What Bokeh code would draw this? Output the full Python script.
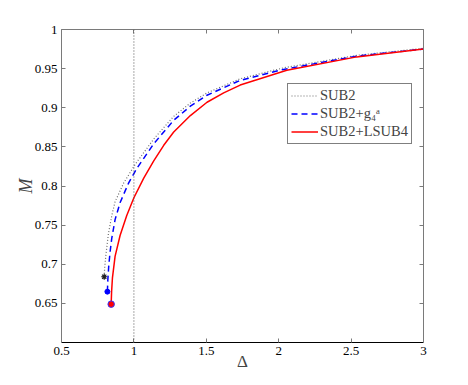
from bokeh.plotting import figure
from bokeh.models import Span, Legend, LegendItem, FixedTicker, LinearAxis, Range1d, CustomJSTickFormatter
from bokeh.embed import file_html
from bokeh.resources import INLINE

# ---- data ----
sub2_delta = [0.795, 0.798, 0.806, 0.824, 0.847, 0.870, 0.930, 1.010, 1.137, 1.275, 1.390, 1.505, 1.734, 2.033, 2.539, 3.0]
sub2_m     = [0.684, 0.695, 0.711, 0.739, 0.762, 0.780, 0.804, 0.828, 0.860, 0.889, 0.906, 0.919, 0.937, 0.951, 0.967, 0.976]

g4_delta = [0.817, 0.820, 0.826, 0.835, 0.847, 0.870, 0.905, 0.964, 1.022, 1.137, 1.275, 1.390, 1.505, 1.734, 2.033, 2.539, 3.0]
g4_m     = [0.665, 0.680, 0.697, 0.715, 0.733, 0.757, 0.779, 0.804, 0.823, 0.854, 0.884, 0.902, 0.916, 0.935, 0.949, 0.966, 0.975]

lsub4_delta = [0.843, 0.846, 0.852, 0.870, 0.905, 0.950, 1.000, 1.068, 1.137, 1.206, 1.275, 1.390, 1.505, 1.620, 1.734, 2.056, 2.539, 3.0]
lsub4_m     = [0.649, 0.665, 0.683, 0.710, 0.737, 0.762, 0.785, 0.810, 0.832, 0.852, 0.869, 0.890, 0.907, 0.919, 0.929, 0.948, 0.965, 0.975]

ref_delta = 1.0
x_ticks = [0.5, 1.0, 1.5, 2.0, 2.5, 3.0]
y_ticks = [0.65, 0.7, 0.75, 0.8, 0.85, 0.9, 0.95, 1.0]
x_limits = (0.5, 3.0)
y_limits = (0.6, 1.0)
labels = ["SUB2", "SUB2+g\u2084\u1d43", "SUB2+LSUB4"]

SERIF = "'Liberation Serif', 'Times New Roman', Times, serif"
FRAME_GRAY = "#7a7a7a"

p = figure(width=460, height=377, x_range=Range1d(*x_limits), y_range=Range1d(*y_limits),
           output_backend="svg", toolbar_location=None,
           min_border_left=61, min_border_right=37, min_border_top=29, min_border_bottom=35)
p.outline_line_color = None
p.xgrid.visible = False
p.ygrid.visible = False
p.background_fill_color = "white"
p.border_fill_color = "white"

def style_axis(ax, color, show_labels=True):
    ax.axis_line_color = color
    ax.axis_line_width = 1
    ax.major_tick_line_color = FRAME_GRAY
    ax.major_tick_in = 4
    ax.major_tick_out = 0
    ax.minor_tick_line_color = None
    ax.major_label_text_font = SERIF
    ax.major_label_text_font_size = "13px"
    ax.major_label_text_color = "black"
    if not show_labels:
        ax.formatter = CustomJSTickFormatter(code="return ''")

xax = p.xaxis[0]
xax.ticker = FixedTicker(ticks=x_ticks)
style_axis(xax, "black")
xax.major_label_standoff = 4
xax.axis_label = "\u0394"
xax.axis_label_text_font = SERIF
xax.axis_label_text_font_style = "normal"
xax.axis_label_text_font_size = "17px"
xax.axis_label_standoff = -6

yax = p.yaxis[0]
yax.ticker = FixedTicker(ticks=y_ticks)
style_axis(yax, FRAME_GRAY)
yax.major_label_standoff = 4
yax.axis_label = "M"
yax.axis_label_text_font = SERIF
yax.axis_label_text_font_style = "italic"
yax.axis_label_text_font_size = "18px"
yax.axis_label_standoff = -4

top = LinearAxis(ticker=FixedTicker(ticks=x_ticks))
style_axis(top, FRAME_GRAY, show_labels=False)
p.add_layout(top, "above")
right = LinearAxis(ticker=FixedTicker(ticks=y_ticks))
style_axis(right, FRAME_GRAY, show_labels=False)
p.add_layout(right, "right")

p.add_layout(Span(location=ref_delta, dimension="height", line_color="#555555",
                  line_dash="1 2", line_width=1))

r1 = p.line(sub2_delta, sub2_m, line_color="#6e6e6e", line_dash="1 2", line_width=1.2)
r2 = p.line(g4_delta, g4_m, line_color="#0000ff", line_dash="6 4", line_width=1.5)
r3 = p.line(lsub4_delta, lsub4_m, line_color="#ff0000", line_width=1.5)

p.scatter([sub2_delta[0]], [sub2_m[0]], marker="circle", size=4, fill_color="#777777", line_color=None, fill_alpha=0.8)
p.scatter([sub2_delta[0]], [sub2_m[0]], marker="asterisk", size=6, line_color="#222222", line_width=1.2)
p.scatter([g4_delta[0]], [g4_m[0]], marker="circle", size=5, fill_color="#0000ff", line_color="#0000ff")
p.scatter([lsub4_delta[0]], [lsub4_m[0]], marker="circle", size=6.5, fill_color="#ff0000", line_color="#3333ff", line_width=1)

legend = Legend(items=[LegendItem(label=labels[0], renderers=[r1]),
                       LegendItem(label=labels[1], renderers=[r2]),
                       LegendItem(label=labels[2], renderers=[r3])],
                location=(226, 198))
legend.border_line_color = "black"
legend.border_line_width = 1
legend.background_fill_color = "white"
legend.background_fill_alpha = 1.0
legend.label_text_font = SERIF
legend.label_text_font_size = "14.5px"
legend.glyph_width = 27
legend.glyph_height = 17
legend.label_height = 17
legend.label_standoff = 2
legend.padding = 3
legend.spacing = 1
legend.margin = 0
p.add_layout(legend)

open("out.html", "w").write(file_html(p, INLINE))
